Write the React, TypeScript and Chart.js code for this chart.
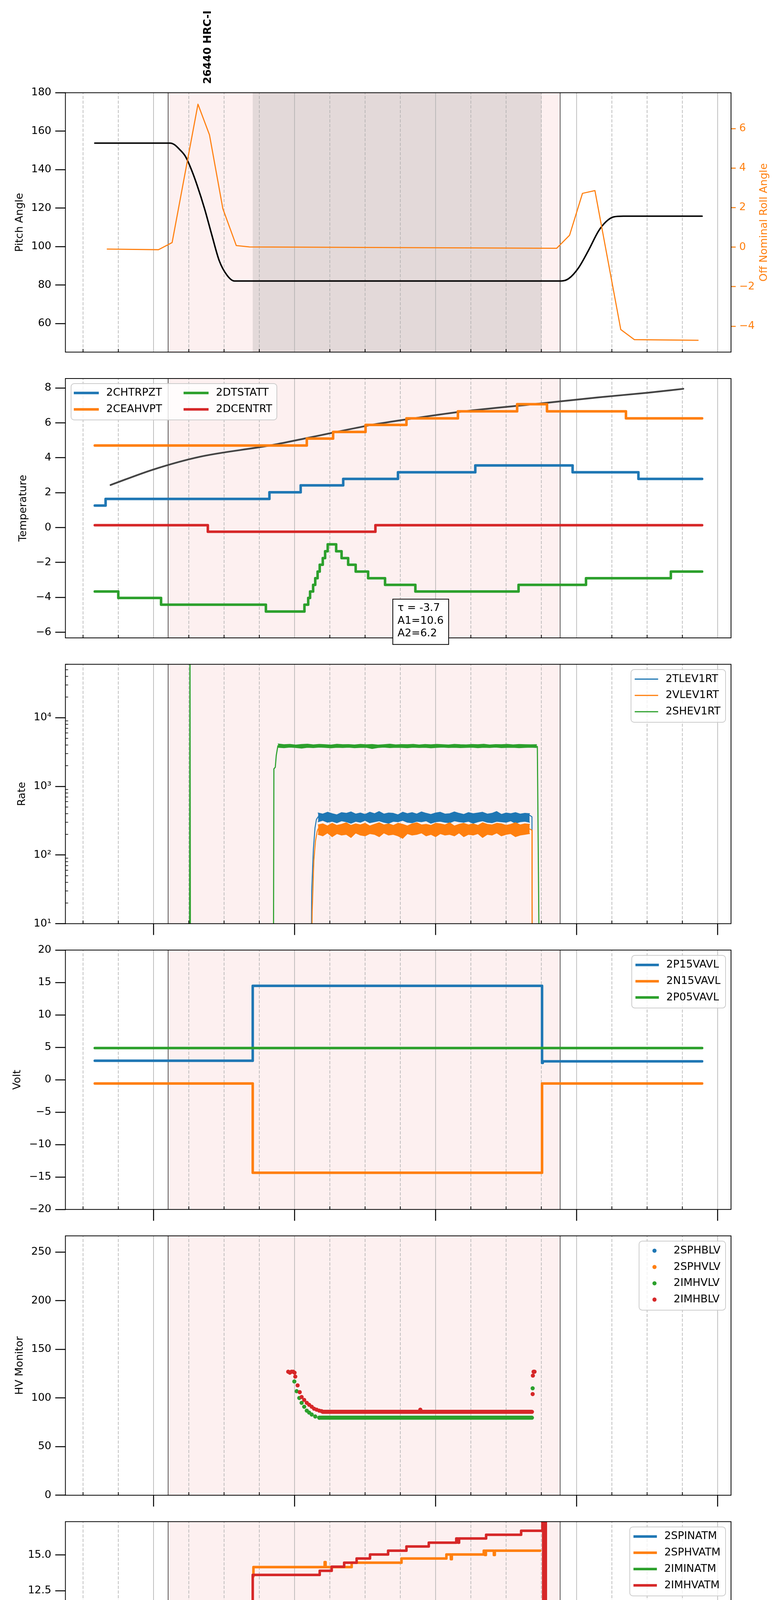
import React, { useEffect, useRef } from "react";
import { Chart, registerables } from "chart.js";

Chart.register(...registerables);

const FONT = "'DejaVu Sans', sans-serif";
const BLUE = "#1f77b4";
const ORANGE = "#ff7f0e";
const GREEN = "#2ca02c";
const RED = "#d62728";

// ---------- x axis (minutes after 2022-07-05 16:00) ----------
const X_MIN = 22.5;
const X_MAX = 305.7;
const X_TICKS = [30, 45, 60, 75, 90, 105, 120, 135, 150, 165, 180, 195, 210, 225, 240, 255, 270, 285, 300];
const X_LABEL = "2022-07-05 (186)";
const OBS_WINDOW = [66.2, 233.0];
const SI_WINDOW = [102.2, 225.1];
const OBS_LABEL = "26440 HRC-I";
const OBS_LABEL_T = 83.3;

// ---------- panel 1: pitch / roll ----------
const PITCH_T = [35.0, 67.0, 68.9, 71.0, 73.6, 76.3, 78.5, 81.7, 84.8, 88.0, 91.2, 94.4, 233.4, 236.6, 240.8, 245.1, 249.3, 252.5, 255.7, 259.9, 293.4];
const PITCH_V = [153.8, 153.8, 153.0, 150.6, 146.8, 139.4, 132.0, 119.7, 106.0, 92.5, 85.2, 82.1, 82.1, 83.3, 88.9, 98.1, 108.0, 112.9, 115.4, 115.8, 115.8];
const ROLL_T = [40.3, 62.1, 67.9, 78.9, 83.8, 89.5, 95.2, 100.8, 231.5, 237.0, 242.5, 247.8, 258.8, 264.6, 291.7];
const ROLL_V = [-0.10, -0.13, 0.23, 7.23, 5.68, 1.94, 0.08, 0.01, -0.06, 0.60, 2.72, 2.86, -4.17, -4.68, -4.71];
const PITCH_TICKS = [60, 80, 100, 120, 140, 160, 180];
const ROLL_TICKS = [-4, -2, 0, 2, 4, 6];
const ROLL_TITLE = "Off Nominal Roll Angle";

// ---------- panel 2: temperature ----------
const CHTRPZT_T = [35, 39.6, 109.3, 122.6, 140.7, 164.0, 196.9, 238.3, 266.3, 293.4];
const CHTRPZT_V = [1.26, 1.64, 2.02, 2.42, 2.79, 3.17, 3.56, 3.17, 2.79, 2.79];
const CEAHVPT_T = [35, 125.2, 136.4, 150.2, 167.6, 189.5, 214.7, 227.4, 261.0, 293.4];
const CEAHVPT_V = [4.70, 5.10, 5.48, 5.88, 6.26, 6.66, 7.07, 6.66, 6.26, 6.26];
const DTSTATT_T = [35, 45.0, 63.2, 107.8, 124.2, 125.8, 126.6, 127.9, 128.8, 129.8, 130.7, 132.0, 133.0, 134.1, 137.7, 140.0, 142.8, 146.0, 151.3, 158.5, 171.4, 215.3, 244.0, 280.1, 293.4];
const DTSTATT_V = [-3.66, -4.03, -4.42, -4.81, -4.42, -4.03, -3.66, -3.28, -2.90, -2.52, -2.13, -1.75, -1.36, -0.96, -1.36, -1.75, -2.13, -2.52, -2.90, -3.28, -3.66, -3.28, -2.90, -2.52, -2.52];
const DCENTRT_T = [35, 83.1, 154.4, 293.4];
const DCENTRT_V = [0.135, -0.24, 0.135, 0.135];
const FIT_T = [41.7, 60.0, 79.5, 109.3, 124.2, 136.8, 152.7, 170.8, 192.0, 221.7, 249.3, 270.5, 285.4];
const FIT_V = [2.44, 3.33, 4.05, 4.70, 5.10, 5.45, 5.88, 6.26, 6.66, 7.07, 7.46, 7.73, 7.95];
const TEMP_TICKS = [-6, -4, -2, 0, 2, 4, 6, 8];
const FIT_TEXT = ["\u03c4 = -3.7", "A1=10.6", "A2=6.2"];
const FIT_TEXT_T = 161.8;
const FIT_TEXT_V = -4.1;

// ---------- panel 3: rates ----------
const RATE_BAND_T = [130, 132, 134, 136, 138, 140, 142, 144, 146, 148, 150, 152, 154, 156, 158, 160, 162, 164, 166, 168, 170, 172, 174, 176, 178, 180, 182, 184, 186, 188, 190, 192, 194, 196, 198, 200, 202, 204, 206, 208, 210, 212, 214, 216, 218, 220];
const TLEV_HI = [410, 395, 420, 400, 385, 415, 405, 425, 395, 410, 390, 420, 400, 430, 395, 410, 405, 385, 420, 400, 415, 395, 425, 405, 390, 410, 420, 395, 400, 425, 405, 390, 415, 400, 410, 420, 395, 405, 430, 390, 410, 400, 415, 395, 405, 400];
const TLEV_LO = [305, 320, 300, 310, 295, 315, 305, 290, 310, 300, 320, 295, 305, 315, 300, 290, 310, 305, 320, 300, 295, 310, 305, 315, 290, 305, 310, 300, 295, 315, 305, 300, 310, 290, 305, 315, 300, 295, 310, 305, 300, 315, 290, 305, 310, 300];
const VLEV_HI = [275, 285, 265, 290, 270, 280, 295, 270, 285, 275, 290, 265, 280, 295, 275, 285, 270, 290, 280, 265, 285, 295, 275, 280, 270, 290, 285, 275, 295, 265, 280, 290, 275, 285, 270, 295, 280, 275, 290, 285, 270, 280, 295, 275, 285, 280];
const VLEV_LO = [200, 190, 210, 185, 205, 195, 200, 180, 210, 195, 190, 205, 200, 185, 210, 195, 200, 190, 175, 205, 195, 200, 210, 190, 200, 185, 205, 195, 200, 190, 210, 185, 200, 195, 205, 180, 200, 195, 210, 190, 200, 205, 185, 195, 200, 205];
const SHEV_BAND_T = [113, 115.5, 118, 120.5, 123, 125.5, 128, 130.5, 133, 135.5, 138, 140.5, 143, 145.5, 148, 150.5, 153, 155.5, 158, 160.5, 163, 165.5, 168, 170.5, 173, 175.5, 178, 180.5, 183, 185.5, 188, 190.5, 193, 195.5, 198, 200.5, 203, 205.5, 208, 210.5, 213, 215.5, 218, 220.5, 223];
const SHEV_HI = [4150, 4050, 4100, 4000, 4080, 4120, 4030, 4090, 4060, 4000, 4110, 4050, 4070, 4020, 4100, 4040, 4080, 4000, 4060, 4120, 4030, 4070, 4050, 4100, 4010, 4080, 4040, 4090, 4060, 4020, 4100, 4050, 4030, 4080, 4060, 4110, 4020, 4070, 4050, 4090, 4030, 4080, 4060, 4040, 4050];
const SHEV_LO = [3700, 3650, 3720, 3680, 3600, 3700, 3660, 3720, 3690, 3640, 3700, 3680, 3710, 3650, 3690, 3700, 3560, 3680, 3720, 3660, 3700, 3690, 3650, 3710, 3680, 3700, 3640, 3690, 3720, 3670, 3700, 3660, 3690, 3710, 3650, 3700, 3680, 3720, 3660, 3690, 3700, 3650, 3690, 3710, 3680];
const TLEV_RISE_T = [35, 127.0, 127.3, 128.0, 128.7, 129.3, 130];
const TLEV_RISE_V = [1, 1, 30, 120, 250, 330, 360];
const TLEV_DROP_T = [220, 221.0, 221.2, 293.4];
const TLEV_DROP_V = [380, 360, 1, 1];
const VLEV_RISE_T = [35, 127.0, 127.5, 128.2, 128.9, 129.6, 130];
const VLEV_RISE_V = [1, 1, 15, 83, 160, 220, 240];
const VLEV_DROP_T = [220, 221.0, 221.1, 293.4];
const VLEV_DROP_V = [240, 230, 1, 1];
const SHEV_RISE_T = [35, 75.3, 75.5, 75.7, 111.0, 111.2, 111.8, 112.2, 112.9, 113];
const SHEV_RISE_V = [1, 1, 200000, 1, 1, 1800, 1900, 2800, 3900, 3850];
const SHEV_DROP_T = [223, 223.3, 224.2, 293.4];
const SHEV_DROP_V = [3850, 3800, 1, 1];
const RATE_TICKS = [10, 100, 1000, 10000];
const RATE_MINOR = [20, 30, 40, 50, 60, 70, 80, 90, 200, 300, 400, 500, 600, 700, 800, 900, 2000, 3000, 4000, 5000, 6000, 7000, 8000, 9000, 20000, 30000, 40000, 50000, 60000];
const RATE_LABELS: Record<number, string> = { 10: "10\u00b9", 100: "10\u00b2", 1000: "10\u00b3", 10000: "10\u2074" };

// ---------- panel 4: volt ----------
const P15_T = [35, 102.2, 225.3, 225.6, 226.0, 293.4];
const P15_V = [2.93, 14.48, 2.6, 2.84, 2.84, 2.84];
const N15_T = [35, 102.2, 225.3, 293.4];
const N15_V = [-0.57, -14.34, -0.57, -0.57];
const P05_T = [35, 293.4];
const P05_V = [4.89, 4.89];
const VOLT_TICKS = [-20, -15, -10, -5, 0, 5, 10, 15, 20];

// ---------- panel 5: HV monitor ----------
const IMHVLV_T = [119.9, 120.9, 122.0, 123.0, 124.1, 125.2, 126.2, 127.3, 128.8, 130.5, 221.3];
const IMHVLV_V = [117, 107, 100, 95, 91, 87, 85, 83, 81, 79.7, 110];
const IMHVLV_FLAT_T = [130.5, 221.0];
const IMHVLV_FLAT_V = [79.7, 79.7];
const IMHBLV_T = [117.3, 118.0, 118.7, 119.4, 120.0, 120.3, 121.3, 122.2, 123.0, 124.1, 125.2, 126.2, 127.3, 128.3, 129.4, 130.5, 131.5, 173.5, 221.3, 221.4, 221.7, 222.1];
const IMHBLV_V = [127, 126, 127, 127, 126, 122, 113, 106, 101, 98, 95, 93, 91, 89, 88, 87, 86.5, 88, 104, 123, 127, 127];
const IMHBLV_FLAT_T = [132.0, 221.0];
const IMHBLV_FLAT_V = [85.8, 85.8];
const HV_TICKS = [0, 50, 100, 150, 200, 250];

// ---------- panel 6: detector temp ----------
const SPINATM_T = [102.2, 103.3, 123.7, 124.7, 125.8, 126.9, 127.9, 129.0, 130.5, 131.5, 132.6, 133.6, 137.2, 138.9, 141.1, 144.3, 147.9, 152.7, 159.8, 171.2, 202.0, 202.4, 212.1, 212.6, 213.3, 213.8, 214.6, 215.1, 216.0, 216.5, 217.4, 224.5];
const SPINATM_V = [1.9, 2.38, 2.84, 3.30, 3.73, 4.12, 4.61, 5.07, 5.52, 6.05, 6.51, 6.96, 6.51, 6.05, 5.52, 5.07, 4.61, 4.12, 3.70, 3.27, 2.8, 3.27, 2.8, 3.27, 2.8, 3.27, 2.8, 3.27, 2.8, 3.27, 2.8, 2.8];
const SPHVATM_T = [102.2, 102.5, 132.8, 133.2, 144.3, 165.5, 184.6, 186.5, 186.9, 200.5, 201.0, 201.4, 204.8, 205.2, 224.5];
const SPHVATM_V = [13.5, 14.15, 14.5, 14.15, 14.46, 14.75, 15.03, 14.7, 15.03, 15.30, 15.0, 15.30, 15.0, 15.30, 15.30];
const IMINATM_T = [102.2, 102.5, 103.0, 103.3, 105.8, 106.2, 106.5, 108.5, 108.8, 131.5, 131.7, 139.5, 139.6, 139.9, 223.7, 223.9, 224.3];
const IMINATM_V = [0.6, 1.1, 0.6, 1.1, 1.1, 0.65, 1.1, 1.1, 0.65, 0.65, 1.1, 1.1, 0.6, 1.1, 1.1, 1.56, 1.56];
const IMHVATM_T = [102.0, 102.2, 130.7, 135.8, 141.1, 146.4, 152.1, 159.8, 167.6, 177.1, 188.8, 189.6, 190.0, 201.5, 216.4, 225.45, 225.8, 226.2, 226.55, 226.9];
const IMHVATM_V = [-30, 13.60, 13.89, 14.18, 14.46, 14.75, 15.03, 15.30, 15.59, 15.86, 16.15, 15.86, 16.15, 16.41, 16.69, 60, -30, 60, -30, 60];
const DET_TICKS = [0, 2.5, 5, 7.5, 10, 12.5, 15];

// ---------- panel 7: FEA temp ----------
const FHTRMZT_T = [35, 115.7, 126.2, 133.4, 133.7, 135.3, 144.3, 152.3, 152.6, 153.6, 163.8, 173.5, 179.2, 179.4, 184.1, 195.0, 198.1, 198.4, 206.2, 215.9, 216.3, 217.2, 229.9, 239.8, 261.0, 293.4];
const FHTRMZT_V = [-8.40, -8.0, -7.59, -9.65, -7.59, -7.18, -6.76, -6.35, -6.76, -6.38, -5.97, -5.59, -6.40, -5.59, -5.18, -4.80, -7.55, -4.80, -4.42, -6.82, -4.42, -4.03, -3.63, -4.03, -4.42, -4.42];
const FRADPYT_T = [35, 85.9, 98.6, 115.0, 127.3, 138.3, 148.1, 158.7, 169.9, 181.0, 193.1, 204.7, 217.0, 248.9, 266.3, 293.4];
const FRADPYT_V = [-10.06, -10.47, -10.91, -10.47, -10.06, -9.64, -9.22, -8.81, -8.39, -7.99, -7.59, -7.18, -6.76, -7.18, -6.76, -6.76];
const FEPRATM_T = [102.9, 103.9, 105.4, 107.1, 109.3, 114.5, 119.2, 125.2, 132.6, 140.4, 148.9, 158.0, 167.6, 178.4, 188.8, 200.1, 211.7, 224.5, 225.0];
const FEPRATM_V = [-7.45, -6.99, -6.59, -6.21, -5.82, -5.42, -5.01, -4.61, -4.18, -3.80, -3.40, -3.00, -2.62, -2.22, -1.79, -1.38, -0.98, -0.5, -0.5];
const FE00ATM_T = [101.9, 102.0, 108.9, 116.7, 123.5, 130.1, 130.3, 130.5, 134.1, 135.0, 135.2, 137.1, 137.3, 137.7, 137.9, 140.5, 140.7, 141.7, 141.9, 142.2, 143.9, 144.1, 144.7, 144.9, 146.7, 146.9, 147.7, 148.5, 148.7, 150.4, 150.6, 151.9, 155.7, 155.85, 156.0, 157.9, 158.1, 158.5, 158.7, 160.6, 160.8, 163.0, 163.2, 164.6, 166.2, 166.4, 167.9, 168.1, 172.3, 175.7, 175.85, 176.0, 177.8, 177.95, 178.1, 181.2, 182.4, 182.6, 183.1, 183.3, 185.4, 185.55, 185.7, 188.8, 189.7, 189.9, 190.9, 191.1, 194.3, 194.5, 196.0, 196.2, 197.3, 199.0, 199.2, 200.7, 200.9, 202.0, 202.15, 202.3, 204.1, 204.3, 206.6, 208.7, 208.9, 210.8, 211.0, 212.5, 212.7, 214.7, 214.9, 217.2, 217.4, 218.0, 218.2, 225.45, 225.8, 226.2, 226.55, 226.9];
const FE00ATM_V = [-30, -6.35, -5.97, -5.66, -5.23, -4.88, -4.50, -4.88, -4.50, -5.64, -4.50, -4.14, -4.50, -5.29, -4.50, -5.62, -4.50, -5.62, -4.50, -4.14, -4.52, -4.14, -4.42, -4.14, -4.55, -4.14, -3.82, -4.14, -3.82, -4.20, -3.82, -3.43, -3.11, -5.29, -3.43, -3.11, -3.43, -4.55, -3.43, -4.55, -3.43, -3.87, -3.43, -3.11, -4.20, -3.11, -4.20, -3.11, -2.78, -2.40, -3.87, -2.78, -2.40, -3.16, -2.78, -2.43, -3.52, -2.43, -2.07, -2.43, -2.07, -3.16, -2.43, -2.07, -2.81, -2.07, -2.48, -2.07, -2.48, -2.07, -2.48, -2.07, -1.75, -2.48, -1.75, -1.42, -1.75, -1.42, -2.13, -1.75, -2.48, -1.75, -1.42, -1.80, -1.42, -1.80, -1.42, -1.09, -1.42, -0.4, -1.42, -0.4, -1.42, -2.13, -1.09, 20, -30, 20, -30, 20];
const FEA_TICKS = [-10, -8, -6, -4, -2];

// ---------- layout ----------
const PANEL_TOP = [237.4, 969, 1700.6, 2432.2, 3163.8, 3895.4, 4627];
const PANEL_H = 664;
const PLOT_LEFT = 167.5;
const PLOT_RIGHT_GAP = 128;

type Series = {
  t: number[];
  v: number[];
  color: string;
  lw?: number;
  stepped?: boolean;
  smooth?: boolean;
  dot?: number;
  fill?: boolean;
  axis?: string;
};
type LegendEntry = { label: string; color: string; kind: "line" | "dot"; lw: number };
type PanelDef = {
  yType: "linear" | "logarithmic";
  yMin: number;
  yMax: number;
  yTicks: number[];
  yFmt: (v: number) => string;
  yTitle: string;
  titleX: number;
  series: Series[];
  legend: LegendEntry[];
  legendCols: number;
  majorX: boolean;
  xLabels: boolean;
  siShade?: boolean;
  yMinor?: number[];
  right?: { min: number; max: number; ticks: number[]; color: string };
  extra?: (chart: any) => void;
};

const minus = (v: number, d = 0) => (v < 0 ? "\u2212" : "") + Math.abs(v).toFixed(d);

const PANELS: PanelDef[] = [
  {
    yType: "linear", yMin: 45.1, yMax: 180, yTicks: PITCH_TICKS, yFmt: (v) => minus(v), yTitle: "Pitch Angle", titleX: 51,
    series: [
      { t: PITCH_T, v: PITCH_V, color: "#000000", lw: 3.8, smooth: true },
      { t: ROLL_T, v: ROLL_V, color: ORANGE, lw: 2.8, axis: "y2" },
    ],
    legend: [], legendCols: 1, majorX: false, xLabels: false, siShade: true,
    right: { min: -5.31, max: 7.81, ticks: ROLL_TICKS, color: ORANGE },
    extra: (chart) => {
      const ctx = chart.ctx;
      const a = chart.chartArea;
      const x = chart.scales.x.getPixelForValue(OBS_LABEL_T);
      ctx.save();
      ctx.translate(x, a.top - 22.4);
      ctx.rotate(-Math.PI / 2);
      ctx.font = `bold 27px ${FONT}`;
      ctx.fillStyle = "#000";
      ctx.textAlign = "left";
      ctx.textBaseline = "middle";
      ctx.fillText(OBS_LABEL, 0, 0);
      ctx.restore();
      ctx.save();
      ctx.translate(a.right + 84.6, (a.top + a.bottom) / 2);
      ctx.rotate(-Math.PI / 2);
      ctx.font = `27px ${FONT}`;
      ctx.fillStyle = ORANGE;
      ctx.textAlign = "center";
      ctx.textBaseline = "middle";
      ctx.fillText(ROLL_TITLE, 0, 0);
      ctx.restore();
    },
  },
  {
    yType: "linear", yMin: -6.32, yMax: 8.54, yTicks: TEMP_TICKS, yFmt: (v) => minus(v), yTitle: "Temperature", titleX: 60,
    series: [
      { t: FIT_T, v: FIT_V, color: "#444444", lw: 4.5, smooth: true },
      { t: CHTRPZT_T, v: CHTRPZT_V, color: BLUE, stepped: true },
      { t: CEAHVPT_T, v: CEAHVPT_V, color: ORANGE, stepped: true },
      { t: DTSTATT_T, v: DTSTATT_V, color: GREEN, stepped: true },
      { t: DCENTRT_T, v: DCENTRT_V, color: RED, stepped: true },
    ],
    legend: [
      { label: "2CHTRPZT", color: BLUE, kind: "line", lw: 6.5 },
      { label: "2CEAHVPT", color: ORANGE, kind: "line", lw: 6.5 },
      { label: "2DTSTATT", color: GREEN, kind: "line", lw: 6.5 },
      { label: "2DCENTRT", color: RED, kind: "line", lw: 6.5 },
    ],
    legendCols: 2, majorX: false, xLabels: false,
    extra: (chart) => {
      const ctx = chart.ctx;
      const x0 = chart.scales.x.getPixelForValue(FIT_TEXT_T);
      const y0 = chart.scales.y.getPixelForValue(FIT_TEXT_V);
      ctx.save();
      ctx.fillStyle = "#ffffff";
      ctx.fillRect(x0, y0, 143, 116);
      ctx.strokeStyle = "#000";
      ctx.lineWidth = 2;
      ctx.strokeRect(x0, y0, 143, 116);
      ctx.fillStyle = "#000";
      ctx.font = `27px ${FONT}`;
      ctx.textAlign = "left";
      ctx.textBaseline = "middle";
      FIT_TEXT.forEach((s, i) => ctx.fillText(s, x0 + 12, y0 + 23 + i * 32.7));
      ctx.restore();
    },
  },
  {
    yType: "logarithmic", yMin: 10, yMax: 60000, yTicks: RATE_TICKS, yFmt: (v) => RATE_LABELS[v] ?? "", yTitle: "Rate", titleX: 57,
    yMinor: RATE_MINOR,
    series: [
      { t: TLEV_RISE_T, v: TLEV_RISE_V, color: BLUE, lw: 2.5 },
      { t: RATE_BAND_T, v: TLEV_HI, color: BLUE, lw: 2 },
      { t: RATE_BAND_T, v: TLEV_LO, color: BLUE, lw: 2, fill: true },
      { t: TLEV_DROP_T, v: TLEV_DROP_V, color: BLUE, lw: 2.5 },
      { t: VLEV_RISE_T, v: VLEV_RISE_V, color: ORANGE, lw: 2.5 },
      { t: RATE_BAND_T, v: VLEV_HI, color: ORANGE, lw: 2 },
      { t: RATE_BAND_T, v: VLEV_LO, color: ORANGE, lw: 2, fill: true },
      { t: VLEV_DROP_T, v: VLEV_DROP_V, color: ORANGE, lw: 2.5 },
      { t: SHEV_RISE_T, v: SHEV_RISE_V, color: GREEN, lw: 2.8 },
      { t: SHEV_BAND_T, v: SHEV_HI, color: GREEN, lw: 2 },
      { t: SHEV_BAND_T, v: SHEV_LO, color: GREEN, lw: 2, fill: true },
      { t: SHEV_DROP_T, v: SHEV_DROP_V, color: GREEN, lw: 2.8 },
    ],
    legend: [
      { label: "2TLEV1RT", color: BLUE, kind: "line", lw: 3 },
      { label: "2VLEV1RT", color: ORANGE, kind: "line", lw: 3 },
      { label: "2SHEV1RT", color: GREEN, kind: "line", lw: 3 },
    ],
    legendCols: 1, majorX: true, xLabels: false,
  },
  {
    yType: "linear", yMin: -20, yMax: 20, yTicks: VOLT_TICKS, yFmt: (v) => minus(v), yTitle: "Volt", titleX: 45,
    series: [
      { t: P15_T, v: P15_V, color: BLUE, stepped: true },
      { t: N15_T, v: N15_V, color: ORANGE, stepped: true },
      { t: P05_T, v: P05_V, color: GREEN, stepped: true },
    ],
    legend: [
      { label: "2P15VAVL", color: BLUE, kind: "line", lw: 6.5 },
      { label: "2N15VAVL", color: ORANGE, kind: "line", lw: 6.5 },
      { label: "2P05VAVL", color: GREEN, kind: "line", lw: 6.5 },
    ],
    legendCols: 1, majorX: true, xLabels: false,
  },
  {
    yType: "linear", yMin: 0, yMax: 266.7, yTicks: HV_TICKS, yFmt: (v) => minus(v), yTitle: "HV Monitor", titleX: 51,
    series: [
      { t: IMHVLV_FLAT_T, v: IMHVLV_FLAT_V, color: GREEN, lw: 10.5 },
      { t: IMHVLV_T, v: IMHVLV_V, color: GREEN, dot: 5.3 },
      { t: IMHBLV_FLAT_T, v: IMHBLV_FLAT_V, color: RED, lw: 10.5 },
      { t: IMHBLV_T, v: IMHBLV_V, color: RED, dot: 5.3 },
    ],
    legend: [
      { label: "2SPHBLV", color: BLUE, kind: "dot", lw: 5.3 },
      { label: "2SPHVLV", color: ORANGE, kind: "dot", lw: 5.3 },
      { label: "2IMHVLV", color: GREEN, kind: "dot", lw: 5.3 },
      { label: "2IMHBLV", color: RED, kind: "dot", lw: 5.3 },
    ],
    legendCols: 1, majorX: true, xLabels: false,
  },
  {
    yType: "linear", yMin: -0.82, yMax: 17.33, yTicks: DET_TICKS, yFmt: (v) => minus(v, 1), yTitle: "Detector Temp", titleX: 42,
    series: [
      { t: SPINATM_T, v: SPINATM_V, color: BLUE, stepped: true },
      { t: SPHVATM_T, v: SPHVATM_V, color: ORANGE, stepped: true },
      { t: IMINATM_T, v: IMINATM_V, color: GREEN, stepped: true },
      { t: IMHVATM_T, v: IMHVATM_V, color: RED, stepped: true },
    ],
    legend: [
      { label: "2SPINATM", color: BLUE, kind: "line", lw: 6.5 },
      { label: "2SPHVATM", color: ORANGE, kind: "line", lw: 6.5 },
      { label: "2IMINATM", color: GREEN, kind: "line", lw: 6.5 },
      { label: "2IMHVATM", color: RED, kind: "line", lw: 6.5 },
    ],
    legendCols: 1, majorX: true, xLabels: false,
  },
  {
    yType: "linear", yMin: -11.58, yMax: -0.72, yTicks: FEA_TICKS, yFmt: (v) => minus(v), yTitle: "FEA Temp", titleX: 45,
    series: [
      { t: FHTRMZT_T, v: FHTRMZT_V, color: BLUE, stepped: true },
      { t: FRADPYT_T, v: FRADPYT_V, color: ORANGE, stepped: true },
      { t: FEPRATM_T, v: FEPRATM_V, color: GREEN, stepped: true },
      { t: FE00ATM_T, v: FE00ATM_V, color: RED, stepped: true },
    ],
    legend: [
      { label: "2FHTRMZT", color: BLUE, kind: "line", lw: 6.5 },
      { label: "2FRADPYT", color: ORANGE, kind: "line", lw: 6.5 },
      { label: "2FEPRATM", color: GREEN, kind: "line", lw: 6.5 },
      { label: "2FE00ATM", color: RED, kind: "line", lw: 6.5 },
    ],
    legendCols: 1, majorX: true, xLabels: true,
  },
];

function drawLegend(ctx: CanvasRenderingContext2D, a: any, entries: LegendEntry[], cols: number) {
  if (!entries.length) return;
  ctx.save();
  ctx.font = `27px ${FONT}`;
  let left: number, top: number, width: number, height: number;
  let pos: { hx: number; hl: number; tx: number; y: number }[];
  if (cols === 2) {
    left = a.left + 14.5;
    top = a.top + 13;
    const half = Math.ceil(entries.length / 2);
    const w1 = Math.max(...entries.slice(0, half).map((e) => ctx.measureText(e.label).width));
    const w2 = Math.max(...entries.slice(half).map((e) => ctx.measureText(e.label).width));
    const col2 = 7 + 64 + 19 + w1 + 55;
    width = col2 + 64 + 19 + w2 + 12;
    height = 24 + (half - 1) * 42 + 27;
    pos = entries.map((e, i) => {
      const c = i < half ? 7 : col2;
      return { hx: left + c, hl: 64, tx: left + c + 83, y: top + 24 + (i % half) * 42 };
    });
  } else {
    const tw = Math.max(...entries.map((e) => ctx.measureText(e.label).width));
    width = 9.5 + 60 + 19 + tw + 13;
    left = a.right - 14 - width;
    top = a.top + 13.5;
    height = 24.5 + (entries.length - 1) * 41.7 + 27;
    pos = entries.map((e, i) => ({ hx: left + 9.5, hl: 60, tx: left + 88.5, y: top + 24.5 + i * 41.7 }));
  }
  ctx.beginPath();
  (ctx as any).roundRect(left, top, width, height, 8);
  ctx.fillStyle = "rgba(255,255,255,0.8)";
  ctx.fill();
  ctx.strokeStyle = "#cccccc";
  ctx.lineWidth = 2;
  ctx.stroke();
  entries.forEach((e, i) => {
    const p = pos[i];
    if (e.kind === "line") {
      ctx.strokeStyle = e.color;
      ctx.lineWidth = e.lw;
      ctx.lineCap = "butt";
      ctx.beginPath();
      ctx.moveTo(p.hx, p.y);
      ctx.lineTo(p.hx + p.hl, p.y);
      ctx.stroke();
    } else {
      ctx.fillStyle = e.color;
      ctx.beginPath();
      ctx.arc(p.hx + p.hl / 2, p.y, e.lw, 0, Math.PI * 2);
      ctx.fill();
    }
    ctx.fillStyle = "#000";
    ctx.textAlign = "left";
    ctx.textBaseline = "middle";
    ctx.fillText(e.label, p.tx, p.y);
  });
  ctx.restore();
}

function makePlugin(p: PanelDef, idx: number) {
  return {
    id: "decor" + idx,
    beforeDatasetsDraw(chart: any) {
      const { ctx, chartArea: a } = chart;
      const px = (t: number) => chart.scales.x.getPixelForValue(t);
      ctx.save();
      ctx.beginPath();
      ctx.rect(a.left, a.top, a.right - a.left, a.bottom - a.top);
      ctx.clip();
      ctx.fillStyle = "#fdf0f0";
      ctx.fillRect(px(OBS_WINDOW[0]), a.top, px(OBS_WINDOW[1]) - px(OBS_WINDOW[0]), a.bottom - a.top);
      if (p.siShade) {
        ctx.fillStyle = "#e3d9d9";
        ctx.fillRect(px(SI_WINDOW[0]), a.top, px(SI_WINDOW[1]) - px(SI_WINDOW[0]), a.bottom - a.top);
      }
      ctx.strokeStyle = "#b0b0b0";
      ctx.lineWidth = 1.6;
      for (const t of X_TICKS) {
        const x = px(t);
        ctx.setLineDash(t % 60 === 0 ? [] : [8, 4]);
        ctx.beginPath();
        ctx.moveTo(x, a.bottom);
        ctx.lineTo(x, a.top);
        ctx.stroke();
      }
      ctx.setLineDash([]);
      ctx.strokeStyle = "#000";
      ctx.lineWidth = 1.3;
      for (const t of OBS_WINDOW) {
        const x = px(t);
        ctx.beginPath();
        ctx.moveTo(x, a.top);
        ctx.lineTo(x, a.bottom);
        ctx.stroke();
      }
      ctx.restore();
    },
    afterDatasetsDraw(chart: any) {
      const { ctx, chartArea: a } = chart;
      const px = (t: number) => chart.scales.x.getPixelForValue(t);
      ctx.save();
      ctx.strokeStyle = "#000";
      ctx.lineWidth = 2;
      ctx.strokeRect(a.left, a.top, a.right - a.left, a.bottom - a.top);
      for (const t of X_TICKS) {
        const x = px(t);
        if (t % 60 !== 0) {
          ctx.lineWidth = 2;
          ctx.beginPath();
          ctx.moveTo(x, a.bottom);
          ctx.lineTo(x, a.bottom - 8);
          ctx.stroke();
        } else if (p.majorX) {
          ctx.lineWidth = 2.5;
          ctx.beginPath();
          ctx.moveTo(x, a.bottom);
          ctx.lineTo(x, a.bottom + 29);
          ctx.stroke();
        }
      }
      if (p.yMinor) {
        ctx.lineWidth = 1.6;
        for (const v of p.yMinor) {
          const y = chart.scales.y.getPixelForValue(v);
          if (y < a.top - 0.5 || y > a.bottom + 0.5) continue;
          ctx.beginPath();
          ctx.moveTo(a.left, y);
          ctx.lineTo(a.left + 7, y);
          ctx.stroke();
        }
      }
      if (p.xLabels) {
        ctx.fillStyle = "#000";
        ctx.textAlign = "center";
        ctx.textBaseline = "middle";
        for (const t of X_TICKS) {
          const x = px(t);
          if (t % 60 === 0) {
            ctx.font = `28px ${FONT}`;
            ctx.fillText(`${16 + t / 60}h`, x, a.bottom + 49.8);
          } else {
            ctx.font = `19px ${FONT}`;
            ctx.fillText(String(t % 60), x, a.bottom + 14.6);
          }
        }
        ctx.font = `31px ${FONT}`;
        ctx.fillText(X_LABEL, (a.left + a.right) / 2, a.bottom + 87);
      }
      ctx.restore();
      drawLegend(ctx, a, p.legend, p.legendCols);
      if (p.extra) p.extra(chart);
    },
  };
}

function buildConfig(p: PanelDef, idx: number, padTop: number, padBottom: number): any {
  const datasets = p.series.map((s, i) => ({
    label: "s" + i,
    data: s.t.map((t, k) => ({ x: t, y: s.v[k] })),
    borderColor: s.color,
    backgroundColor: s.color,
    borderWidth: s.lw ?? 6.5,
    pointRadius: s.dot ?? 0,
    pointHoverRadius: 0,
    pointBorderWidth: 0,
    pointBackgroundColor: s.color,
    showLine: !s.dot,
    stepped: s.stepped ? "before" : false,
    cubicInterpolationMode: s.smooth ? "monotone" : "default",
    tension: 0,
    fill: s.fill ? "-1" : false,
    borderCapStyle: "round",
    borderJoinStyle: "round",
    clip: 0,
    order: -i,
    yAxisID: s.axis ?? "y",
  }));
  const tickFont = { family: FONT, size: 27 };
  const scales: any = {
    x: { type: "linear", min: X_MIN, max: X_MAX, display: false },
    y: {
      type: p.yType,
      position: "left",
      min: p.yMin,
      max: p.yMax,
      afterFit: (s: any) => {
        s.width = PLOT_LEFT;
      },
      afterBuildTicks: (s: any) => {
        s.ticks = p.yTicks.map((v) => ({ value: v }));
      },
      ticks: { callback: (v: any) => p.yFmt(Number(v)), font: tickFont, color: "#000", padding: 10, autoSkip: false, maxRotation: 0 },
      grid: { drawOnChartArea: false, drawTicks: true, tickLength: 26, tickWidth: 2.5, tickColor: "#000" },
      border: { display: false },
      title: { display: true, text: p.yTitle, font: { family: FONT, size: 27 }, color: "#000", padding: { top: p.titleX - 16.2, bottom: 0 } },
    },
  };
  if (p.right) {
    const r = p.right;
    scales.y2 = {
      type: "linear",
      position: "right",
      min: r.min,
      max: r.max,
      afterFit: (s: any) => {
        s.width = PLOT_RIGHT_GAP;
      },
      afterBuildTicks: (s: any) => {
        s.ticks = r.ticks.map((v) => ({ value: v }));
      },
      ticks: { callback: (v: any) => minus(Number(v)), font: tickFont, color: r.color, padding: 9, autoSkip: false, maxRotation: 0 },
      grid: { drawOnChartArea: false, drawTicks: true, tickLength: 12, tickWidth: 2.5, tickColor: r.color },
      border: { display: false },
    };
  }
  return {
    type: "line",
    data: { datasets },
    options: {
      animation: false,
      responsive: false,
      devicePixelRatio: 1,
      events: [],
      layout: { padding: { top: padTop, bottom: padBottom, left: 0, right: p.right ? 0 : PLOT_RIGHT_GAP } },
      plugins: { legend: { display: false }, tooltip: { enabled: false } },
      scales,
    },
    plugins: [makePlugin(p, idx)],
  };
}

function Panel({ idx }: { idx: number }) {
  const ref = useRef<HTMLCanvasElement>(null);
  const top = PANEL_TOP[idx];
  const canvasTop = idx === 0 ? 0 : Math.round(top - 100);
  const padTop = top - canvasTop;
  const height = idx === PANELS.length - 1 ? 5400 - canvasTop : Math.round(padTop + PANEL_H + 100);
  const padBottom = height - padTop - PANEL_H;
  useEffect(() => {
    const chart = new Chart(ref.current as HTMLCanvasElement, buildConfig(PANELS[idx], idx, padTop, padBottom));
    return () => chart.destroy();
  }, []);
  return (
    <canvas
      ref={ref}
      width={2000}
      height={height}
      style={{ position: "absolute", left: 0, top: canvasTop, width: 2000, height }}
    />
  );
}

export default function App() {
  return (
    <div style={{ position: "absolute", left: 0, top: 0, width: 2000, height: 5400, background: "#ffffff", overflow: "hidden" }}>
      {PANELS.map((_, i) => (
        <Panel key={i} idx={i} />
      ))}
    </div>
  );
}
